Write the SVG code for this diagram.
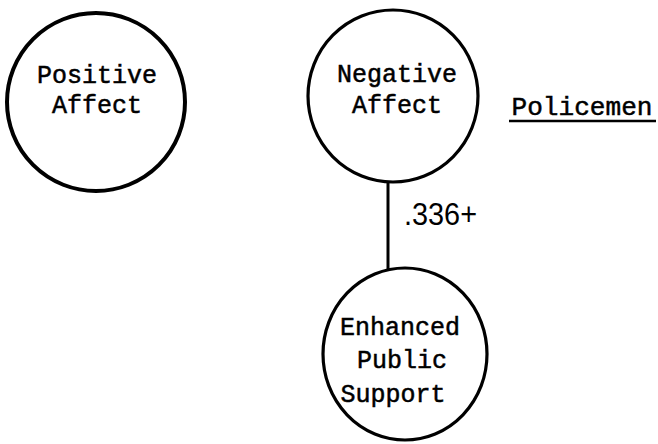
<svg xmlns="http://www.w3.org/2000/svg" width="658" height="444" viewBox="0 0 658 444">
<style>
.node{fill:#fff;stroke:#000;stroke-width:3.2}
.t{font-family:"Liberation Mono","Courier New",monospace;font-size:25px;fill:#000;stroke:#000;stroke-width:0.5;text-anchor:middle}
.edge{stroke:#000;stroke-width:3;fill:none}
.lbl{font-family:"Liberation Sans",Arial,sans-serif;font-size:31px;fill:#000}
</style>
<rect width="658" height="444" fill="#fff"/>
<g id="edges">
<line class="edge" x1="388" y1="182" x2="388" y2="269"/>
<text class="lbl" x="404" y="225" textLength="73" lengthAdjust="spacingAndGlyphs">.336+</text>
</g>
<g id="positive">
<ellipse class="node" cx="96" cy="102" rx="89" ry="89" style="stroke-width:4"/>
<text class="t" x="97" y="83">Positive</text>
<text class="t" x="97" y="113">Affect</text>
</g>
<g id="negative">
<ellipse class="node" cx="393" cy="96" rx="85" ry="86"/>
<text class="t" x="397" y="82">Negative</text>
<text class="t" x="397" y="113">Affect</text>
</g>
<g id="enhanced">
<ellipse class="node" cx="405" cy="354" rx="82" ry="86"/>
<text class="t" x="400" y="335">Enhanced</text>
<text class="t" x="402" y="368">Public</text>
<text class="t" x="393" y="402">Support</text>
</g>
<g id="title">
<text class="t" x="582" y="115" style="font-size:26px" textLength="141" lengthAdjust="spacingAndGlyphs">Policemen</text>
<line x1="509" y1="121" x2="656" y2="121" stroke="#000" stroke-width="2.5"/>
</g>
</svg>
